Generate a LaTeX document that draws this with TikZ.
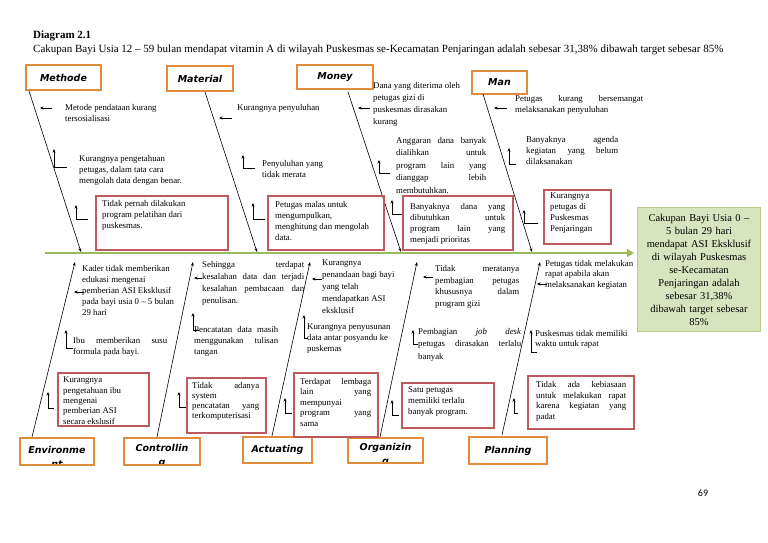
\documentclass[tikz,border=0pt]{standalone}
\usepackage{fontspec}
\setmainfont{Liberation Serif}
\newfontfamily\labelfont{DejaVu Sans}
\newfontfamily\pagefont{Carlito}
\usetikzlibrary{arrows.meta, positioning}
\definecolor{catorange}{HTML}{E38B3D}
\definecolor{causered}{HTML}{BE5A5E}
\definecolor{spinegreen}{HTML}{9BBB59}
\definecolor{effectfill}{HTML}{D7E4BD}
\definecolor{effectline}{HTML}{B5CC8A}
\newcommand\causesize{\fontsize{8.8}{11}\selectfont}
\tikzset{
	catbox/.style={
			draw=catorange,
			line width=1.8pt,
			fill=white,
			inner sep=0pt,
			align=center,
			font=\labelfont\bfseries\itshape\fontsize{9.5}{14}\selectfont
		},
	catlabel/.style={
			draw=none,
			fill=none,
			inner sep=0pt,
			align=center,
			font=\labelfont\bfseries\itshape\fontsize{9.5}{14}\selectfont
		},
	causetxt/.style={
			font=\causesize,
			inner sep=0pt,
			anchor=north west,
			align=left
		},
	causejust/.style={
			causetxt,
			text width=#1,
			align=justify
		},
	causebox/.style={
			draw=causered,
			line width=1.5pt,
			inner sep=0pt,
			anchor=north west
		},
	effect/.style={
			draw=effectline,
			fill=effectfill,
			line width=1pt,
			anchor=north west,
			minimum width=123pt,
			minimum height=124pt,
			text width=117pt,
			align=center,
			inner sep=0pt,
			font=\fontsize{10.5}{13}\selectfont
		},
	bone/.style={line width=0.6pt, -{Stealth[length=4pt, width=3pt]}},
	pointer/.style={line width=0.6pt, -{Stealth[length=3.5pt, width=3pt]}},
	spine/.style={spinegreen, line width=2.5pt, -{Triangle[length=7pt, width=8pt]}}
}

\begin{document}
\begin{tikzpicture}[x=1pt, y=-1pt]
\useasboundingbox (0,0) rectangle (768,543);

% heading
\node[anchor=north west, inner sep=0pt, font=\fontsize{11}{12}\selectfont\bfseries] (title) at (33,31) {Diagram 2.1};
\node[anchor=north west, inner sep=0pt, font=\fontsize{11}{12}\selectfont] (subtitle) at (33,45) {Cakupan Bayi Usia 12 -- 59 bulan mendapat vitamin A di wilayah Puskesmas se-Kecamatan Penjaringan adalah sebesar 31,38\% dibawah target sebesar 85\%};

% effect and spine
\node[effect] (effect) at (637,207) {Cakupan Bayi Usia 0 --\\5 bulan 29 hari\\mendapat ASI Eksklusif\\di wilayah Puskesmas\\se-Kecamatan\\Penjaringan adalah\\sebesar 31,38\%\\dibawah target sebesar\\85\%};
\coordinate (s0) at (45,253);
\draw[spine, shorten >=3pt] (s0) -- (s0 -| effect.west);

% categories
\node[catbox, minimum width=75pt, minimum height=25pt] (methode) at (63.5,77.5) {Methode};
\node[catbox, minimum width=66pt, minimum height=25pt] (material) at (200,78.5) {Material};
\node[catbox, minimum width=76pt, minimum height=24pt] (money) at (335,77) {Money};
\node[catbox, minimum width=55pt, minimum height=23pt] (man) at (499.5,82.5) {Man};
\node[catbox, minimum width=74pt, minimum height=27pt, path picture={\node[catlabel, anchor=north] (envlabel) at ([yshift=-4pt]path picture bounding box.north) {Environme\\nt};}] (environment) at (57,451.5) {};
\node[catbox, minimum width=76pt, minimum height=27pt, path picture={\node[catlabel, anchor=north] (ctrllabel) at ([yshift=-4pt]path picture bounding box.north) {Controllin\\g};}] (controlling) at (162,451.5) {};
\node[catbox, minimum width=69pt, minimum height=26pt] (actuating) at (277.5,450) {Actuating};
\node[catbox, minimum width=75pt, minimum height=25pt, path picture={\node[catlabel, anchor=north] (orglabel) at ([yshift=-4pt]path picture bounding box.north) {Organizin\\g};}] (organizing) at (385.5,450.5) {};
\node[catbox, minimum width=78pt, minimum height=27pt] (planning) at (508,450.5) {Planning};

% bones
\coordinate (bm0) at (29,91);   \coordinate (bm1) at (81,252);
\coordinate (ba0) at (205,92);  \coordinate (ba1) at (257,252);
\coordinate (bo0) at (348,92);  \coordinate (bo1) at (401,252);
\coordinate (bn0) at (483,94);  \coordinate (bn1) at (532,252);
\coordinate (bv0) at (32,437);  \coordinate (bv1) at (75,262);
\coordinate (bc0) at (157,437); \coordinate (bc1) at (193,262);
\coordinate (bt0) at (272,436); \coordinate (bt1) at (310,262);
\coordinate (bg0) at (380,437); \coordinate (bg1) at (417,262);
\coordinate (bp0) at (502,435); \coordinate (bp1) at (540,262);
\draw[bone] (bm0) -- (bm1);
\draw[bone] (ba0) -- (ba1);
\draw[bone] (bo0) -- (bo1);
\draw[bone] (bn0) -- (bn1);
\draw[bone] (bv0) -- (bv1);
\draw[bone] (bc0) -- (bc1);
\draw[bone] (bt0) -- (bt1);
\draw[bone] (bg0) -- (bg1);
\draw[bone] (bp0) -- (bp1);

% Methode
\node[causetxt] (m1) at (65,104) {Metode pendataan kurang\\tersosialisasi};
\node[causetxt] (m2) at (79,155) {Kurangnya pengetahuan\\petugas, dalam tata cara\\mengolah data dengan benar.};
\node[causebox, minimum width=132pt, minimum height=54pt] (m3box) at (95,195) {};
\node[causetxt] (m3) at (102,200) {Tidak pernah dilakukan\\program pelatihan dari\\puskesmas.};
\coordinate (m1t) at (52,108); \coordinate (m1h) at (40,108);
\coordinate (m2t) at (67,167); \coordinate (m2h) at (54,149);
\coordinate (m3t) at (88,219); \coordinate (m3h) at (76,205);
\draw[pointer] (m1t) -- (m1h);
\draw[pointer] (m2t) -| (m2h);
\draw[pointer] (m3t) -| (m3h);

% Material
\node[causetxt] (a1) at (237,104) {Kurangnya penyuluhan};
\node[causetxt] (a2) at (262,160) {Penyuluhan yang\\tidak merata};
\node[causebox, minimum width=116pt, minimum height=54pt] (a3box) at (267,195) {};
\node[causetxt] (a3) at (275,201) {Petugas malas untuk\\mengumpulkan,\\menghitung dan mengolah\\data.};
\coordinate (a1t) at (232,118); \coordinate (a1h) at (219,118);
\coordinate (a2t) at (255,168); \coordinate (a2h) at (243,155);
\coordinate (a3t) at (265,219); \coordinate (a3h) at (253,203);
\draw[pointer] (a1t) -- (a1h);
\draw[pointer] (a2t) -| (a2h);
\draw[pointer] (a3t) -| (a3h);

% Money
\node[causetxt, font=\fontsize{8.8}{12}\selectfont] (o1) at (373,82) {Dana yang diterima oleh\\petugas gizi di\\puskesmas dirasakan\\kurang};
\node[causejust=90pt, font=\fontsize{8.8}{12.5}\selectfont] (o2) at (396,137) {Anggaran dana banyak\linebreak dialihkan untuk\linebreak program lain yang\linebreak dianggap lebih\linebreak membutuhkan.};
\node[causebox, minimum width=110pt, minimum height=54pt] (o3box) at (402,195) {};
\node[causejust=95pt] (o3) at (410,203) {Banyaknya dana yang\linebreak dibutuhkan untuk\linebreak program lain yang\linebreak menjadi prioritas};
\coordinate (o1t) at (370,108); \coordinate (o1h) at (358,108);
\coordinate (o2t) at (390,173); \coordinate (o2h) at (379,160);
\coordinate (o3t) at (402,214); \coordinate (o3h) at (392,200);
\draw[pointer] (o1t) -- (o1h);
\draw[pointer] (o2t) -| (o2h);
\draw[pointer] (o3t) -| (o3h);

% Man
\node[causejust=128pt] (n1) at (515,95) {Petugas kurang bersemangat\linebreak melaksanakan penyuluhan};
\node[causejust=92pt] (n2) at (526,136) {Banyaknya agenda\linebreak kegiatan yang belum\linebreak dilaksanakan};
\node[causebox, minimum width=67pt, minimum height=54pt] (n3box) at (543,189) {};
\node[causetxt] (n3) at (550,193) {Kurangnya\\petugas di\\Puskesmas\\Penjaringan};
\coordinate (n1t) at (507,108); \coordinate (n1h) at (494,108);
\coordinate (n2t) at (516,164); \coordinate (n2h) at (509,148);
\coordinate (n3t) at (538,223); \coordinate (n3h) at (524,210);
\draw[pointer] (n1t) -- (n1h);
\draw[pointer] (n2t) -| (n2h);
\draw[pointer] (n3t) -| (n3h);

% Environment
\node[causetxt] (v1) at (82,265) {Kader tidak memberikan\\edukasi mengenai\\pemberian ASI Eksklusif\\pada bayi usia 0 -- 5 bulan\\29 hari};
\node[causejust=94pt] (v2) at (73,337) {Ibu memberikan susu\linebreak formula pada bayi.};
\node[causebox, minimum width=91pt, minimum height=53pt] (v3box) at (57,372) {};
\node[causetxt, font=\fontsize{8.8}{10.3}\selectfont] (v3) at (63,377) {Kurangnya\\pengetahuan ibu\\mengenai\\pemberian ASI\\secara ekslusif};
\coordinate (v1t) at (84,292); \coordinate (v1h) at (74,292);
\coordinate (v2t) at (73,348); \coordinate (v2h) at (66,330);
\coordinate (v3t) at (54,408); \coordinate (v3h) at (48,392);
\draw[pointer] (v1t) -- (v1h);
\draw[pointer] (v2t) -| (v2h);
\draw[pointer] (v3t) -| (v3h);

% Controlling
\node[causejust=102pt, font=\fontsize{8.8}{12}\selectfont] (c1) at (202,261) {Sehingga terdapat\linebreak kesalahan data dan terjadi\linebreak kesalahan pembacaan dan\linebreak penulisan.};
\node[causejust=84pt] (c2) at (194,326) {Pencatatan data masih\linebreak menggunakan tulisan\linebreak tangan};
\node[causebox, minimum width=79pt, minimum height=55pt] (c3box) at (186,377) {};
\node[causejust=67pt, font=\fontsize{8.8}{10}\selectfont] (c3) at (192,382) {Tidak adanya\linebreak system\\pencatatan yang\linebreak terkomputerisasi};
\coordinate (c1t) at (202,278); \coordinate (c1h) at (194,278);
\coordinate (c2t) at (199,330); \coordinate (c2h) at (193,313);
\coordinate (c3t) at (186,407); \coordinate (c3h) at (179,392);
\draw[pointer] (c1t) -- (c1h);
\draw[pointer] (c2t) -| (c2h);
\draw[pointer] (c3t) -| (c3h);

% Actuating
\node[causetxt, font=\fontsize{8.8}{12}\selectfont] (t1) at (322,260) {Kurangnya\\penandaan bagi bayi\\yang telah\\mendapatkan ASI\\eksklusif};
\node[causetxt] (t2) at (307,324) {Kurangnya penyusunan\\data antar posyandu ke\\puskemas};
\node[causebox, minimum width=84pt, minimum height=64pt] (t3box) at (293,372) {};
\node[causejust=71pt, font=\fontsize{8.8}{10.5}\selectfont] (t3) at (300,378) {Terdapat lembaga\linebreak lain yang\linebreak mempunyai\\program yang\linebreak sama};
\coordinate (t1t) at (322,279); \coordinate (t1h) at (312,279);
\coordinate (t2t) at (308,338); \coordinate (t2h) at (304,315);
\coordinate (t3t) at (292,413); \coordinate (t3h) at (285,398);
\draw[pointer] (t1t) -- (t1h);
\draw[pointer] (t2t) -| (t2h);
\draw[pointer] (t3t) -| (t3h);

% Organizing
\node[causejust=84pt, font=\fontsize{8.8}{11.7}\selectfont] (g1) at (435,265) {Tidak meratanya\linebreak pembagian petugas\linebreak khususnya dalam\linebreak program gizi};
\node[causejust=103pt, font=\fontsize{8.8}{12.5}\selectfont] (g2) at (418,328) {Pembagian \textit{job desk}\linebreak petugas dirasakan terlalu\linebreak banyak};
\node[causebox, minimum width=92pt, minimum height=45pt] (g3box) at (401,382) {};
\node[causetxt] (g3) at (408,386) {Satu petugas\\memiliki terlalu\\banyak program.};
\coordinate (g1t) at (433,277); \coordinate (g1h) at (423,277);
\coordinate (g2t) at (418,344); \coordinate (g2h) at (413,330);
\coordinate (g3t) at (399,415); \coordinate (g3h) at (392,400);
\draw[pointer] (g1t) -- (g1h);
\draw[pointer] (g2t) -| (g2h);
\draw[pointer] (g3t) -| (g3h);

% Planning
\node[causetxt, font=\fontsize{8.8}{10.5}\selectfont] (p1) at (545,260) {Petugas tidak melakukan\\rapat apabila akan\\melaksanakan kegiatan};
\node[causetxt, font=\fontsize{8.8}{10.5}\selectfont] (p2) at (535,330) {Puskesmas tidak memiliki\\waktu untuk rapat};
\node[causebox, minimum width=106pt, minimum height=53pt] (p3box) at (527,375) {};
\node[causejust=90pt, font=\fontsize{8.8}{10.8}\selectfont] (p3) at (536,381) {Tidak ada kebiasaan\linebreak untuk melakukan rapat\linebreak karena kegiatan yang\linebreak padat};
\coordinate (p1t) at (547,284); \coordinate (p1h) at (537,284);
\coordinate (p2t) at (537,352); \coordinate (p2h) at (531,330);
\coordinate (p3t) at (518,413); \coordinate (p3h) at (514,398);
\draw[pointer] (p1t) -- (p1h);
\draw[pointer] (p2t) -| (p2h);
\draw[pointer] (p3t) -| (p3h);

% page number
\node[inner sep=0pt, font=\pagefont\fontsize{10}{12}\selectfont] (pagenum) at (703,493) {69};
\end{tikzpicture}
\end{document}
